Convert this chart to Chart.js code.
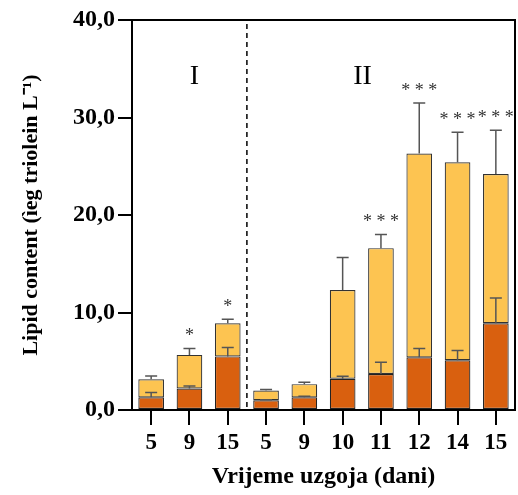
<!DOCTYPE html>
<html lang="hr">
<head>
  <meta charset="UTF-8" />
  <title>Lipid content</title>
  <script src="https://cdn.jsdelivr.net/npm/chart.js"></script>
  <style>
    html, body { margin: 0; padding: 0; background: #fff; }
    #wrap { width: 518px; height: 495px; }
  </style>
</head>
<body>
  <div id="wrap"><canvas id="grafico" width="518" height="495"></canvas></div>

  <script>
    // dani uzgoja (faza I: 5, 9, 15; faza II: 5 ... 15)
    const dani = ['5', '9', '15', '5', '9', '10', '11', '12', '14', '15'];
    // donji (tamni) dio stupca
    const donji = [1.3, 2.2, 5.5, 1.0, 1.3, 3.2, 3.7, 5.4, 5.1, 8.9];
    // ukupna visina stupca
    const ukupno = [3.15, 5.65, 8.9, 2.0, 2.65, 12.3, 16.6, 26.3, 25.4, 24.2];
    // standardne devijacije (samo gornji brk)
    const sdDonji = [0.5, 0.25, 0.9, 0.05, 0.12, 0.25, 1.2, 0.9, 1.0, 2.6];
    const sdUkupno = [0.35, 0.65, 0.4, 0.1, 0.2, 3.35, 1.4, 5.2, 3.1, 4.5];
    const zvjezdice = ['', '*', '*', '', '', '', '***', '***', '***', '***'];
    const yTicks = [0, 10, 20, 30, 40];

    const gornji = ukupno.map((v, i) => Number((v - donji[i]).toFixed(2)));

    const serif = '"Liberation Serif", "Times New Roman", serif';

    const dodaci = {
      id: 'dodaci',
      afterDatasetsDraw(chart) {
        const { ctx, chartArea, scales } = chart;
        const y = scales.y;
        const meta = chart.getDatasetMeta(0);
        ctx.save();

        // brkovi (error bars)
        ctx.strokeStyle = '#555';
        ctx.lineWidth = 1.5;
        const brk = (x, v, e) => {
          const y0 = y.getPixelForValue(v);
          const y1 = y.getPixelForValue(v + e);
          ctx.beginPath();
          ctx.moveTo(x, y0); ctx.lineTo(x, y1);
          ctx.moveTo(x - 6, y1); ctx.lineTo(x + 6, y1);
          ctx.stroke();
        };
        meta.data.forEach((bar, i) => {
          brk(bar.x, donji[i], sdDonji[i]);
          brk(bar.x, ukupno[i], sdUkupno[i]);
        });

        // zvjezdice
        ctx.fillStyle = '#333';
        ctx.font = '18px ' + serif;
        ctx.textAlign = 'center';
        ctx.textBaseline = 'middle';
        meta.data.forEach((bar, i) => {
          if (!zvjezdice[i]) return;
          const top = y.getPixelForValue(ukupno[i] + sdUkupno[i]);
          const txt = zvjezdice[i].split('').join(' ');
          ctx.fillText(txt, bar.x, top - 12);
        });

        // isprekidana crta izmedu faza
        const xa = meta.data[2].x, xb = meta.data[3].x;
        const xm = (xa + xb) / 2;
        ctx.strokeStyle = '#000';
        ctx.lineWidth = 1.5;
        ctx.setLineDash([5, 4]);
        ctx.beginPath();
        ctx.moveTo(xm, chartArea.top + 4);
        ctx.lineTo(xm, chartArea.bottom);
        ctx.stroke();
        ctx.setLineDash([]);

        // oznake faza
        ctx.fillStyle = '#000';
        ctx.font = '28px ' + serif;
        ctx.fillText('I', meta.data[1].x + 5, 77);
        ctx.fillText('II', (meta.data[4].x + meta.data[5].x) / 2 + 39, 77);

        // okvir
        ctx.lineWidth = 2;
        ctx.beginPath();
        ctx.moveTo(chartArea.left, chartArea.top);
        ctx.lineTo(chartArea.right, chartArea.top);
        ctx.lineTo(chartArea.right, chartArea.bottom);
        ctx.stroke();
        ctx.restore();
      }
    };

    new Chart(document.getElementById('grafico').getContext('2d'), {
      type: 'bar',
      data: {
        labels: dani,
        datasets: [
          {
            data: donji,
            backgroundColor: '#D9600F',
            borderColor: '#222',
            borderWidth: 1.2,
            borderSkipped: false,
            barPercentage: 0.67,
            categoryPercentage: 1
          },
          {
            data: gornji,
            backgroundColor: '#FDC451',
            borderColor: '#333',
            borderWidth: 1.2,
            borderSkipped: false,
            barPercentage: 0.67,
            categoryPercentage: 1
          }
        ]
      },
      options: {
        responsive: false,
        animation: false,
        layout: { padding: { top: 20, right: 3, left: 0, bottom: 0 } },
        plugins: { legend: { display: false }, tooltip: { enabled: false } },
        scales: {
          x: {
            stacked: true,
            grid: { drawOnChartArea: false, offset: false, color: '#000', lineWidth: 2, tickLength: 15 },
            border: { color: '#000', width: 2 },
            ticks: { color: '#000', font: { family: serif, size: 23, weight: 'bold' }, padding: 4 },
            title: {
              display: true, text: 'Vrijeme uzgoja (dani)', color: '#000',
              font: { family: serif, size: 24, weight: 'bold' }, padding: { top: 4 }
            },
            afterFit: s => { s.height = 85; }
          },
          y: {
            stacked: true,
            min: 0, max: 40,
            afterBuildTicks: s => { s.ticks = yTicks.map(v => ({ value: v })); },
            grid: { drawOnChartArea: false, color: '#000', lineWidth: 2, tickLength: 14 },
            border: { color: '#000', width: 2 },
            ticks: {
              color: '#000', padding: 3,
              font: { family: serif, size: 24, weight: 'bold' },
              callback: v => v.toFixed(1).replace('.', ',')
            },
            title: {
              display: true, text: 'Lipid content (ìeg triolein L⁻¹)', color: '#000',
              font: { family: serif, size: 22, weight: 'bold' }, padding: { top: 18, bottom: 4 }
            },
            afterFit: s => { s.width = 132; }
          }
        }
      },
      plugins: [dodaci]
    });
  </script>
</body>
</html>
